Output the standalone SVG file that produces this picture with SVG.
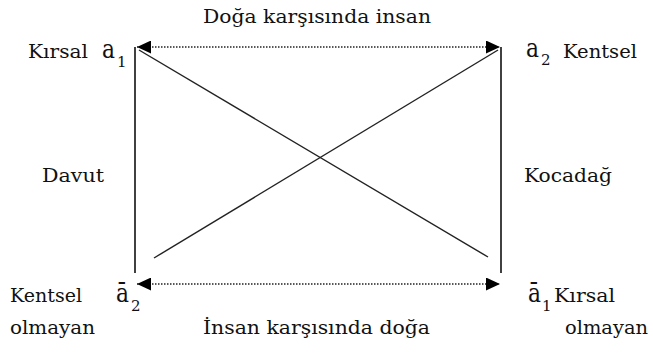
<svg xmlns="http://www.w3.org/2000/svg" width="653" height="353" viewBox="0 0 653 353">
<style>
text{font-family:'DejaVu Serif','Liberation Serif',serif;font-size:19px;fill:#111}
.v{font-size:26px}
.s{font-size:15px}
.solid{stroke:#111;stroke-width:1.6;fill:none}
.diag{stroke:#222;stroke-width:1.4;fill:none}
.dot{stroke:#222;stroke-width:1.3;stroke-dasharray:1.5 1.5;fill:none}
</style>
<defs>
<marker id="ah" markerUnits="userSpaceOnUse" markerWidth="15" markerHeight="13" refX="14" refY="6.5" orient="auto-start-reverse">
<path d="M0,0 L14,6.5 L0,13 z" fill="#000"/>
</marker>
</defs>
<rect width="653" height="353" fill="#fff"/>
<g id="connectors">
<line class="solid" x1="135" y1="47" x2="135" y2="273"/>
<line class="solid" x1="501" y1="47" x2="501" y2="273"/>
<line class="diag" x1="139" y1="50" x2="488" y2="257"/>
<line class="diag" x1="154" y1="258" x2="498" y2="50"/>
<line class="dot" x1="137" y1="47" x2="500" y2="47" marker-start="url(#ah)" marker-end="url(#ah)"/>
<line class="dot" x1="137" y1="284" x2="500" y2="284" marker-start="url(#ah)" marker-end="url(#ah)"/>
</g>
<g id="top-label"><text x="203" y="23" textLength="228" lengthAdjust="spacingAndGlyphs">Doğa karşısında insan</text></g>
<g id="bottom-label"><text x="203" y="334" textLength="227" lengthAdjust="spacingAndGlyphs">İnsan karşısında doğa</text></g>
<g id="a1"><text x="28" y="58" textLength="60" lengthAdjust="spacingAndGlyphs">Kırsal</text><text class="v" x="102" y="58" textLength="13" lengthAdjust="spacingAndGlyphs">a</text><text class="s" x="117" y="67">1</text></g>
<g id="a2"><text class="v" x="526" y="57" textLength="13" lengthAdjust="spacingAndGlyphs">a</text><text class="s" x="541" y="65">2</text><text x="563" y="58" textLength="74" lengthAdjust="spacingAndGlyphs">Kentsel</text></g>
<g id="a2bar"><text x="10" y="302" textLength="72" lengthAdjust="spacingAndGlyphs">Kentsel</text><text x="10" y="334" textLength="85" lengthAdjust="spacingAndGlyphs">olmayan</text><text class="v" x="116" y="302" textLength="13" lengthAdjust="spacingAndGlyphs">ā</text><text class="s" x="131" y="311">2</text></g>
<g id="a1bar"><text class="v" x="528" y="302" textLength="13" lengthAdjust="spacingAndGlyphs">ā</text><text class="s" x="542" y="311">1</text><text x="554" y="302" textLength="61" lengthAdjust="spacingAndGlyphs">Kırsal</text><text x="565" y="334" textLength="83" lengthAdjust="spacingAndGlyphs">olmayan</text></g>
<g id="davut"><text x="42" y="182" textLength="62" lengthAdjust="spacingAndGlyphs">Davut</text></g>
<g id="kocadag"><text x="524" y="182" textLength="88" lengthAdjust="spacingAndGlyphs">Kocadağ</text></g>
</svg>
